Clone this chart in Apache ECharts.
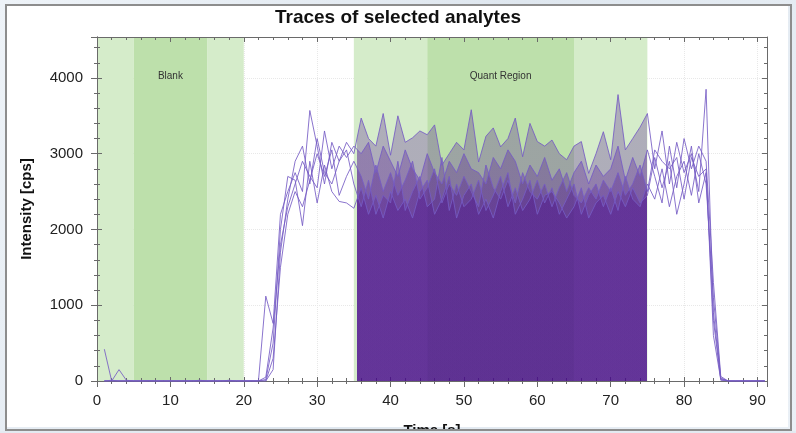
<!DOCTYPE html>
<html>
<head>
<meta charset="utf-8">
<script src="https://cdn.jsdelivr.net/npm/echarts@6/dist/echarts.min.js"></script>
<style>
html,body{margin:0;padding:0;width:796px;height:433px;overflow:hidden;background:linear-gradient(120deg,#eef3f8 0%,#dfe7ef 50%,#eaf0f6 100%);}
#frame{position:absolute;left:5px;top:4px;width:783px;height:423px;background:#fff;}
#border{position:absolute;left:5px;top:4px;width:783px;height:423px;border:2px solid #8d8d8d;pointer-events:none;}
#below{position:absolute;left:0;top:431px;width:796px;height:2px;background:#e3eaf1;pointer-events:none;}
#chart{position:absolute;left:0;top:0;width:796px;height:433px;}
</style>
</head>
<body>
<div id="frame"></div>
<div id="chart"></div>
<div id="border"></div>
<div id="below"></div>
<script>
// ---- data ----
const times = [1,2,3,4,5,6,7,8,9,10,11,12,13,14,15,16,17,18,19,20,21,22,23,24,25,26,27,28,29,30,31,32,33,34,35,36,37,38,39,40,41,42,43,44,45,46,47,48,49,50,51,52,53,54,55,56,57,58,59,60,61,62,63,64,65,66,67,68,69,70,71,72,73,74,75,76,77,78,79,80,81,82,83,84,85,86,87,88,89,90,91];

const traceA = [420,0,150,10,0,0,0,0,0,0,0,0,0,0,0,0,0,0,0,0,0,0,
  1120,760,2200,2500,2750,2500,3570,3100,2600,3150,2900,3150,3000,
  3470,3200,3100,3530,2980,3500,3150,3210,3300,3250,3380,2850,3000,3150,3050,3580,2890,3230,3340,3090,3200,3470,2960,3400,3160,3100,3180,3000,2920,3100,3160,2740,3000,3290,2920,3780,3050,3200,3350,3530,
  2800,3300,2600,3150,2750,3000,2500,3850,900,30,0,0,0,0,0,0];
const traceB = [0,10,0,0,0,0,5,0,0,0,0,0,0,10,0,0,0,0,0,0,0,0,
  50,700,1800,2300,2600,2900,2700,2550,3300,2800,3100,2950,3100,
  3000,3150,2750,3100,2900,2700,3050,2800,2650,3000,2750,2600,2900,2750,3000,2800,2750,2600,2950,2800,3050,2900,2600,2850,2700,2950,2650,2800,2500,2750,2900,2600,2850,2700,2800,3100,2650,2950,2700,3050,
  2700,2350,3100,2550,3200,2800,3100,2900,1300,60,0,0,0,0,0,0];
const traceC = [0,0,0,0,0,0,0,0,0,0,0,0,0,0,0,0,0,10,0,0,0,0,
  0,300,1500,2200,2500,2300,2650,3000,2700,3050,2450,2700,2900,
  2700,2400,2850,2500,2750,2450,2650,2900,2400,2550,2800,2350,2600,2450,2700,2500,2300,2850,2550,2400,2650,2350,2750,2500,2400,2600,2300,2550,2750,2450,2350,2550,2400,2650,2500,2750,2450,2600,2850,2500,
  3050,2900,2800,2950,2400,2950,2700,2800,600,20,0,0,0,0,0,0];
const traceD = [0,0,0,0,0,0,0,0,0,0,0,0,0,0,0,0,0,0,0,0,0,0,
  0,150,1700,2400,2900,3100,2600,3200,2750,2600,2900,3050,2600,
  2300,2650,2200,2450,2350,2900,2250,2500,2700,2300,2400,2950,2250,2600,2300,2400,2650,2250,2450,2700,2300,2550,2250,2400,2650,2350,2550,2200,2400,2600,2200,2450,2600,2300,2550,2250,2700,2400,2300,2600,
  2400,2800,2300,2700,2900,2450,3000,2600,1100,40,0,0,0,0,0,0];
const traceE = [0,0,0,0,0,0,0,0,0,0,0,0,0,0,0,0,0,0,0,0,0,0,
  20,500,2000,2700,2650,2050,2900,2350,2850,2500,2370,2350,2280,
  2550,2200,2450,2150,2500,2250,2400,2150,2500,2650,2200,2400,2700,2150,2450,2600,2200,2400,2150,2500,2750,2200,2400,2650,2200,2450,2500,2350,2150,2300,2550,2150,2350,2450,2200,2500,2300,2550,2350,2450,
  2950,2550,2900,2200,2600,3100,2350,2750,800,10,0,0,0,0,0,0];

const bandStart = [0, 5, 15, 35, 45, 65];
const bandEnd   = [5, 15, 20, 45, 65, 75];
const bandDark  = [false, true, false, false, true, false];
const bandLabel = ['', 'Blank', '', '', 'Quant Region', ''];
const quantStart = 35.4, quantEnd = 75;

const xTicks = {min: 0, max: 91.3, interval: 10};
const yTicks = {min: 0, max: 4540, interval: 1000};

// ---- chart ----
const traces = [traceA, traceB, traceC, traceD, traceE];
const pairs = traces.map(tr => times.map((t, i) => [t, tr[i]]));
const lightGreen = '#d5ecca', darkGreen = '#bde0ab';
const fillColor = 'rgba(70,5,140,0.27)';
const lineColor = 'rgba(118,92,196,0.85)';
const font = 'Liberation Sans, Arial, sans-serif';

const bandItems = bandStart.map((s, i) => [
  {xAxis: s, itemStyle: {color: bandDark[i] ? darkGreen : lightGreen},
   label: {show: !!bandLabel[i], formatter: bandLabel[i], position: 'insideTop', distance: 0, offset: [0, 34], color: '#333', fontSize: 10, fontFamily: font}},
  {xAxis: bandEnd[i]}
]);

const series = [{
  type: 'line', data: [], xAxisIndex: 0, yAxisIndex: 0, silent: true, z: 0,
  markArea: {silent: true, z: 0, data: bandItems}
}];
pairs.forEach(p => series.push({
  type: 'line', data: p, symbol: 'none', silent: true, z: 2,
  lineStyle: {width: 0, opacity: 0},
  areaStyle: {opacity: 1}
}));
pairs.forEach(p => series.push({
  type: 'line', data: p, symbol: 'none', silent: true, z: 3,
  lineStyle: {width: 1, color: lineColor},
  itemStyle: {color: lineColor}
}));

const axisLineStyle = {color: '#6a6a6a', width: 1};
function xAx(extra) {
  return Object.assign({type: 'value', min: xTicks.min, max: xTicks.max, interval: xTicks.interval,
    axisLine: {show: true, onZero: false, lineStyle: axisLineStyle}, splitLine: {show: false}}, extra);
}
function yAx(extra) {
  return Object.assign({type: 'value', min: yTicks.min, max: yTicks.max, interval: yTicks.interval,
    axisLine: {show: true, onZero: false, lineStyle: axisLineStyle}, splitLine: {show: false}}, extra);
}

const chart = echarts.init(document.getElementById('chart'), null, {renderer: 'canvas'});
chart.setOption({
  animation: false,
  backgroundColor: 'transparent',
  title: {text: 'Traces of selected analytes', left: 'center', top: 3,
    textStyle: {fontSize: 19, fontWeight: 'bold', color: '#111', fontFamily: font}},
  grid: {left: 97, right: 29, top: 37, bottom: 52, outerBoundsMode: 'none', containLabel: false},
  visualMap: {type: 'piecewise', show: false, dimension: 0, seriesIndex: [1,2,3,4,5],
    pieces: [{gte: quantStart, lte: quantEnd, color: fillColor}],
    outOfRange: {color: 'rgba(70,5,140,0)'}},
  xAxis: [
    xAx({position: 'bottom', name: 'Time [s]', nameLocation: 'middle', nameGap: 42,
      nameTextStyle: {fontSize: 15, fontWeight: 'bold', color: '#111', fontFamily: font},
      axisTick: {show: true, length: 6, lineStyle: axisLineStyle},
      minorTick: {show: true, splitNumber: 5, length: 3, lineStyle: axisLineStyle},
      axisLabel: {fontSize: 15, color: '#222', margin: 12, fontFamily: font, showMaxLabel: false},
      splitLine: {show: true, lineStyle: {color: '#e8e8e8', type: 'dotted'}}}),
    xAx({position: 'bottom', axisTick: {show: true, inside: true, length: 4, lineStyle: axisLineStyle},
      minorTick: {show: true, splitNumber: 5, length: 3, lineStyle: axisLineStyle},
      axisLabel: {show: false}}),
    xAx({position: 'top', axisTick: {show: true, inside: true, length: 5, lineStyle: axisLineStyle},
      minorTick: {show: true, splitNumber: 5, length: 3, lineStyle: axisLineStyle},
      axisLabel: {show: false}})
  ],
  yAxis: [
    yAx({position: 'left', name: 'Intensity [cps]', nameLocation: 'middle', nameGap: 63,
      nameTextStyle: {fontSize: 15, fontWeight: 'bold', color: '#111', fontFamily: font},
      axisTick: {show: true, length: 6, lineStyle: axisLineStyle},
      minorTick: {show: true, splitNumber: 5, length: 3, lineStyle: axisLineStyle},
      axisLabel: {fontSize: 15, color: '#222', margin: 14, fontFamily: font, showMaxLabel: false,
        formatter: v => String(v)},
      splitLine: {show: true, lineStyle: {color: '#e8e8e8', type: 'dotted'}}}),
    yAx({position: 'left', axisTick: {show: true, inside: true, length: 5, lineStyle: axisLineStyle},
      minorTick: {show: true, splitNumber: 5, length: 3, lineStyle: axisLineStyle},
      axisLabel: {show: false}}),
    yAx({position: 'right', axisTick: {show: true, inside: true, length: 5, lineStyle: axisLineStyle},
      minorTick: {show: true, splitNumber: 5, length: 3, lineStyle: axisLineStyle},
      axisLabel: {show: false}})
  ],
  series: series
});
</script>
</body>
</html>
